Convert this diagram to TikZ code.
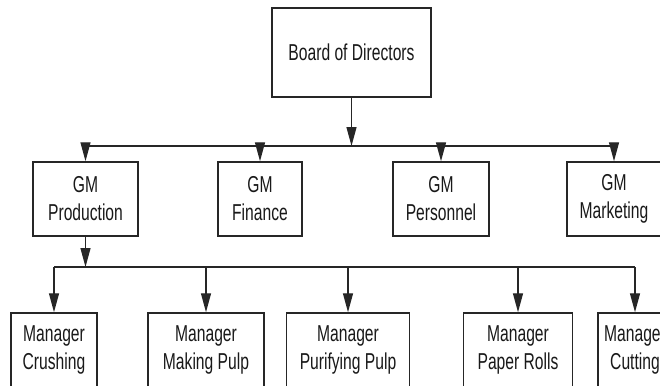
\documentclass[tikz,border=0pt]{standalone}
\usepackage{fontspec}
\setmainfont[FakeStretch=0.68]{Liberation Sans}
\usetikzlibrary{arrows.meta}
\begin{document}
\begin{tikzpicture}[x=1pt,y=-1pt,
  orgbox/.style={draw=black!85, line width=1.5pt, fill=white, align=center,
    inner sep=0pt, text=black!90, font=\fontsize{23}{28}\selectfont},
  link/.style={draw=black!85, line width=1.3pt},
  tolink/.style={link, -{Triangle[length=19pt,width=10pt]}}]
\useasboundingbox (0,0) rectangle (660,385);
\clip (0,0) rectangle (660,385);

% top level
\node[orgbox, minimum width=159pt, minimum height=89pt] (board) at (351.5,52.5) {Board of Directors};

% general managers
\node[orgbox, minimum width=105pt, minimum height=74pt] (prod) at (85.5,199) {GM\\Production};
\node[orgbox, minimum width=84pt,  minimum height=74pt] (fin)  at (260,199)  {GM\\Finance};
\node[orgbox, minimum width=96pt,  minimum height=74pt] (pers) at (441,199)  {GM\\Personnel};
\node[orgbox, minimum width=94pt,  minimum height=74pt] (mkt)  at (614,199)  {GM\\Marketing};

% production managers
\node[orgbox, minimum width=86pt,  minimum height=74pt] (crush) at (54,350)    {Manager\\Crushing};
\node[orgbox, minimum width=116pt, minimum height=74pt] (make)  at (206,350)   {Manager\\Making Pulp};
\node[orgbox, minimum width=123pt, minimum height=74pt] (puri)  at (348,350)   {Manager\\Purifying Pulp};
\node[orgbox, minimum width=109pt, minimum height=74pt] (roll)  at (518,350)   {Manager\\Paper Rolls};
\node[orgbox, minimum width=74pt,  minimum height=74pt] (cut)   at (635,350)   {Manager\\Cutting};

% bus lines
\coordinate (busA) at (351.5,146);
\coordinate (busB) at (85.5,267);

\draw[tolink] (board.south) -- (busA);
\draw[link] (prod.north |- busA) -- (mkt.north |- busA);
\foreach \n in {prod,fin,pers,mkt}
  \draw[tolink] (\n.north |- busA) -- (\n.north);

\draw[tolink] (prod.south) -- (busB);
\draw[link] (crush.north |- busB) -- (cut.north |- busB);
\foreach \n in {crush,make,puri,roll,cut}
  \draw[tolink] (\n.north |- busB) -- (\n.north);
\end{tikzpicture}
\end{document}
